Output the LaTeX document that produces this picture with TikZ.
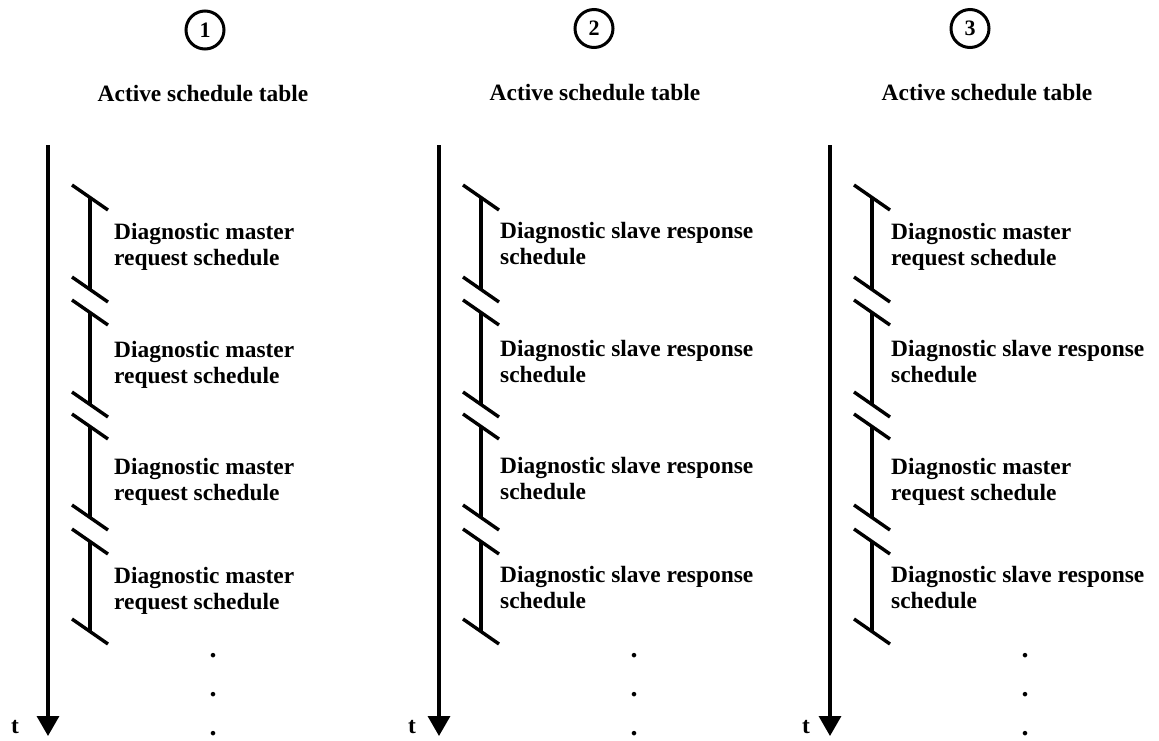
\documentclass[tikz,border=0pt]{standalone}
\usepackage{fontspec}
\setmainfont{Liberation Serif}
\usetikzlibrary{arrows.meta}

% one schedule slot: bar at x=#1, upper break mark at y=#2, lower break mark at y=#3
\newcommand\slot[3]{%
  \draw[breakmark] (#1-18,#2) -- ++(36,25);
  \draw[breakmark] (#1-18,#3) -- ++(36,25);
  \draw[slotbar] (#1,#2+12.5) -- (#1,#3+12.5);
}

\begin{document}
\begin{tikzpicture}[x=1pt,y=-1pt,
  lbl/.style={font=\bfseries\fontsize{23.4}{26}\selectfont, inner sep=0pt},
  item/.style={lbl, anchor=west, align=left},
  heading/.style={lbl, anchor=base},
  ellipsisdot/.style={font=\bfseries\fontsize{28}{30}\selectfont, inner sep=0pt, anchor=base},
  numcircle/.style={draw, circle, line width=3pt, minimum size=38pt, inner sep=0pt,
                    font=\bfseries\fontsize{22}{24}\selectfont},
  timeaxis/.style={line width=3.4pt, -{Triangle[length=20pt,width=22pt]}},
  slotbar/.style={line width=3.4pt},
  breakmark/.style={line width=3.4pt},
]
\useasboundingbox (0,0) rectangle (1159,740);

% ---------- column 1 ----------
\node[numcircle] (n1) at (205,30) {1};
\node[heading] (h1) at (203,101) {Active schedule table};
\coordinate (a1s) at (48,145);
\coordinate (a1e) at (48,736);
\draw[timeaxis] (a1s) -- (a1e);
\node[heading] (t1) at (15,733) {t};
\slot{90}{185}{277}
\slot{90}{300}{392}
\slot{90}{414}{505}
\slot{90}{529}{619}
\node[item] (c1s1) at (114,246.5) {Diagnostic master\\request schedule};
\node[item] (c1s2) at (114,364.5) {Diagnostic master\\request schedule};
\node[item] (c1s3) at (114,481.5) {Diagnostic master\\request schedule};
\node[item] (c1s4) at (114,590.5) {Diagnostic master\\request schedule};
\node[ellipsisdot] (d1a) at (213,657) {.};
\node[ellipsisdot] (d1b) at (213,696) {.};
\node[ellipsisdot] (d1c) at (213,735) {.};

% ---------- column 2 ----------
\node[numcircle] (n2) at (594,28.5) {2};
\node[heading] (h2) at (595,100) {Active schedule table};
\coordinate (a2s) at (439,145);
\coordinate (a2e) at (439,736);
\draw[timeaxis] (a2s) -- (a2e);
\node[heading] (t2) at (412,733) {t};
\slot{481}{185}{277}
\slot{481}{300}{392}
\slot{481}{414}{505}
\slot{481}{529}{619}
\node[item] (c2s1) at (500,244) {Diagnostic slave response\\schedule};
\node[item] (c2s2) at (500,362) {Diagnostic slave response\\schedule};
\node[item] (c2s3) at (500,479) {Diagnostic slave response\\schedule};
\node[item] (c2s4) at (500,588) {Diagnostic slave response\\schedule};
\node[ellipsisdot] (d2a) at (634,657) {.};
\node[ellipsisdot] (d2b) at (634,696) {.};
\node[ellipsisdot] (d2c) at (634,735) {.};

% ---------- column 3 ----------
\node[numcircle] (n3) at (970,28.5) {3};
\node[heading] (h3) at (987,100) {Active schedule table};
\coordinate (a3s) at (830,145);
\coordinate (a3e) at (830,736);
\draw[timeaxis] (a3s) -- (a3e);
\node[heading] (t3) at (806,733) {t};
\slot{872}{185}{277}
\slot{872}{300}{392}
\slot{872}{414}{505}
\slot{872}{529}{619}
\node[item] (c3s1) at (891,246.5) {Diagnostic master\\request schedule};
\node[item] (c3s2) at (891,362) {Diagnostic slave response\\schedule};
\node[item] (c3s3) at (891,481.5) {Diagnostic master\\request schedule};
\node[item] (c3s4) at (891,588) {Diagnostic slave response\\schedule};
\node[ellipsisdot] (d3a) at (1025,657) {.};
\node[ellipsisdot] (d3b) at (1025,696) {.};
\node[ellipsisdot] (d3c) at (1025,735) {.};
\end{tikzpicture}
\end{document}
